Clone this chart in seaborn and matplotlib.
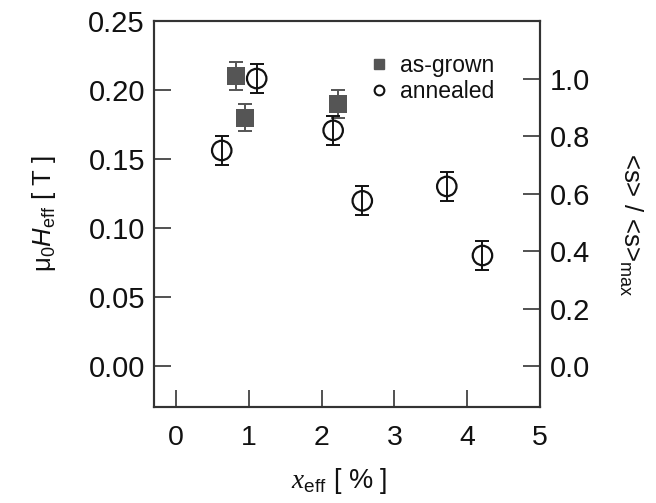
import matplotlib
matplotlib.use("Agg")
import matplotlib.pyplot as plt
from matplotlib.lines import Line2D
import seaborn as sns
import pandas as pd

# ---- data ----
grown_x = [0.83, 0.95, 2.23]
grown_h = [0.21, 0.18, 0.19]          # left axis  mu0 Heff [T]
grown_err = [0.01, 0.01, 0.01]

ann_x = [0.63, 1.11, 2.16, 2.56, 3.72, 4.21]
ann_s = [0.75, 1.00, 0.82, 0.575, 0.625, 0.385]   # right axis <s>/<s>max
ann_err = [0.05, 0.05, 0.05, 0.05, 0.05, 0.05]

x_ticks = [0, 1, 2, 3, 4, 5]
left_ticks = [0.00, 0.05, 0.10, 0.15, 0.20, 0.25]
right_ticks = [0.0, 0.2, 0.4, 0.6, 0.8, 1.0]

sns.set_theme(style="ticks")
plt.rcParams['font.family'] = ['Liberation Sans', 'DejaVu Sans']
plt.rcParams['mathtext.fontset'] = 'custom'
plt.rcParams['mathtext.rm'] = 'Liberation Sans'
plt.rcParams['mathtext.it'] = 'Liberation Sans:italic'
plt.rcParams['mathtext.cal'] = 'Liberation Serif:italic'
plt.rcParams['mathtext.bf'] = 'Liberation Sans:bold'

spine_c = '#333333'
gray = '#555555'

fig = plt.figure(figsize=(6.56, 5.03), dpi=100)
ax = fig.add_axes([154/656, 1-407/503, (540-154)/656, (407-21)/503])
ax2 = ax.twinx()

ylim_l = (-0.0295, 0.25)
fac = 4.8
ax.set_ylim(*ylim_l)
ax2.set_ylim(ylim_l[0]*fac, ylim_l[1]*fac)
ax.set_xlim(-0.30, 5.0)

df_g = pd.DataFrame({'x': grown_x, 'y': grown_h})
df_a = pd.DataFrame({'x': ann_x, 'y': ann_s})

ax.errorbar(grown_x, grown_h, yerr=grown_err, fmt='none', ecolor=gray,
            elinewidth=1.4, capsize=5, capthick=1.4, zorder=2)
sns.scatterplot(data=df_g, x='x', y='y', ax=ax, marker='s', s=13**2,
                color=gray, edgecolor=gray, linewidth=0, zorder=3, legend=False)

ax2.errorbar(ann_x, ann_s, yerr=ann_err, fmt='none', ecolor='#111111',
             elinewidth=1.4, capsize=5.3, capthick=1.4, zorder=2)
sns.scatterplot(data=df_a, x='x', y='y', ax=ax2, marker='o', s=14**2,
                facecolor='none', edgecolor='#111111', linewidth=1.6,
                zorder=3, legend=False)

for a in (ax, ax2):
    a.set_xlabel('')
    a.set_ylabel('')
    for sp in a.spines.values():
        sp.set_color(spine_c)
        sp.set_linewidth(1.5)
    a.spines['top'].set_visible(True)
    a.spines['right'].set_visible(True)

ax.set_xticks(x_ticks)
ax.set_xticklabels([str(t) for t in x_ticks])
ax.set_yticks(left_ticks)
ax.set_yticklabels([f'{t:.2f}' for t in left_ticks])
ax2.set_yticks(right_ticks)
ax2.set_yticklabels([f'{t:.1f}' for t in right_ticks])

ax.tick_params(axis='x', direction='in', length=12.5, width=1.2, color=spine_c,
               labelsize=20.5, pad=13, labelcolor='#111111', top=False)
ax.tick_params(axis='y', direction='in', length=12.5, width=1.2, color=spine_c,
               labelsize=21, pad=6.5, labelcolor='#111111', right=False)
ax2.tick_params(axis='y', direction='in', length=12.5, width=1.2, color=spine_c,
                labelsize=21, pad=7, labelcolor='#111111')

fig.text(44/656, 1-214/503, r'μ$_0$$H_{\mathrm{eff}}$ [ T ]', rotation=90,
         ha='center', va='center', fontsize=18.5, color='#111111')
fig.text(631/656, 1-225/503, r'<s> / <s>$_{\mathrm{max}}$', rotation=270,
         ha='center', va='center', fontsize=18.5, color='#111111')
fig.text(339/656, 1-481/503, r'$\mathcal{x}_{\mathrm{eff}}$ [ % ]',
         ha='center', va='center', fontsize=19.5, color='#111111')

handles = [Line2D([], [], marker='s', ls='none', color=gray, ms=7, mec=gray),
           Line2D([], [], marker='o', ls='none', mfc='none', mec='#111111', ms=7, mew=1.5)]
leg = ax.legend(handles, ['as-grown', 'annealed'], loc='upper left',
                bbox_to_anchor=(370/656, 1-54/503), bbox_transform=fig.transFigure,
                frameon=False, fontsize=16.5, handlelength=0.8, handletextpad=0.5,
                labelspacing=0.15, borderpad=0, borderaxespad=0)
for t in leg.get_texts():
    t.set_color('#111111')

fig.savefig('out.png', dpi=100)
